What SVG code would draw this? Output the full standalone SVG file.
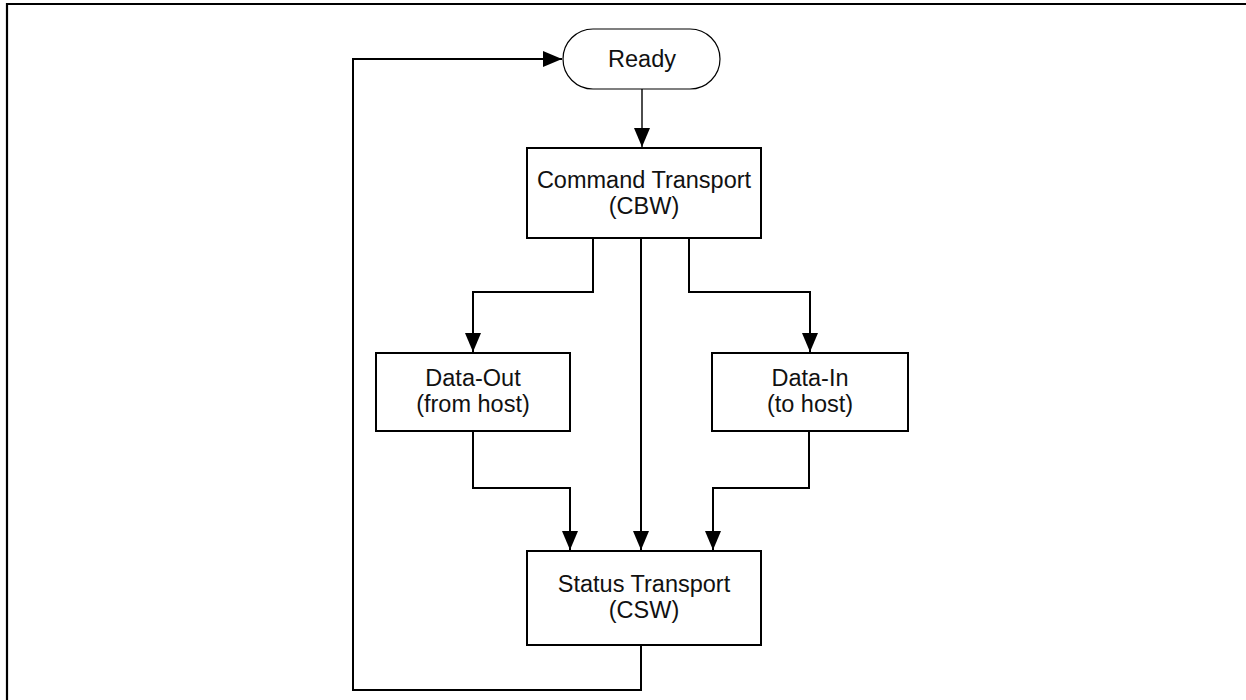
<svg xmlns="http://www.w3.org/2000/svg" width="1246" height="700" viewBox="0 0 1246 700">
<style>
.box{fill:#fff;stroke:#000;stroke-width:2}
.term{fill:#fff;stroke:#000;stroke-width:1.2}
.lbl{font-family:"Liberation Sans",Arial,sans-serif;font-size:23.5px;fill:#111;text-anchor:middle}
.wire{fill:none;stroke:#000;stroke-width:2}
.thin{fill:none;stroke:#000;stroke-width:1.4}
</style>
<defs>
<marker id="ah" markerUnits="userSpaceOnUse" markerWidth="20" markerHeight="16" viewBox="0 0 20 16" refX="19" refY="8" orient="auto">
<path d="M0,0 L19,8 L0,16 Z" fill="#000"/>
</marker>
</defs>
<rect width="1246" height="700" fill="#fff"/>
<path d="M7,702 V4 H1248" fill="none" stroke="#000" stroke-width="2.2"/>
<g id="connectors">
<path class="wire" d="M641,645 V690 H353 V59 H562" marker-end="url(#ah)"/>
<path class="thin" d="M642,89 V147" marker-end="url(#ah)"/>
<path class="wire" d="M593,238 V292 H473 V352" marker-end="url(#ah)"/>
<path class="wire" d="M641,238 V550" marker-end="url(#ah)"/>
<path class="wire" d="M689,238 V292 H810 V352" marker-end="url(#ah)"/>
<path class="wire" d="M473,431 V488 H570 V550" marker-end="url(#ah)"/>
<path class="wire" d="M809,431 V488 H713 V550" marker-end="url(#ah)"/>
</g>
<g id="ready">
<rect class="term" x="563" y="29" width="157" height="60" rx="30" ry="30"/>
<text class="lbl" x="642" y="67">Ready</text>
</g>
<g id="command">
<rect class="box" x="527" y="148" width="234" height="90"/>
<text class="lbl" x="644" y="188">Command Transport</text>
<text class="lbl" x="644" y="214">(CBW)</text>
</g>
<g id="dataout">
<rect class="box" x="376" y="353" width="194" height="78"/>
<text class="lbl" x="473" y="386">Data-Out</text>
<text class="lbl" x="473" y="412">(from host)</text>
</g>
<g id="datain">
<rect class="box" x="712" y="353" width="196" height="78"/>
<text class="lbl" x="810" y="386">Data-In</text>
<text class="lbl" x="810" y="412">(to host)</text>
</g>
<g id="status">
<rect class="box" x="527" y="551" width="234" height="94"/>
<text class="lbl" x="644" y="592">Status Transport</text>
<text class="lbl" x="644" y="618">(CSW)</text>
</g>
</svg>
